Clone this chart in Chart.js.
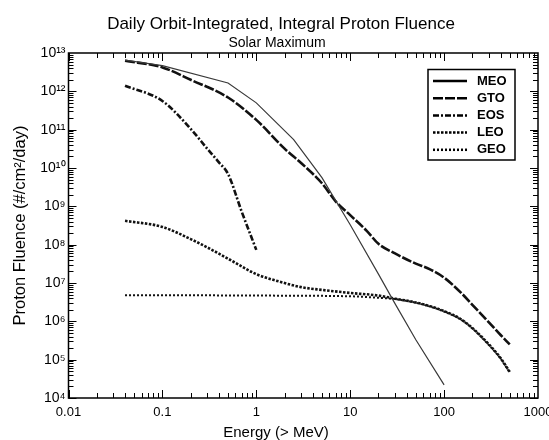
<!DOCTYPE html>
<html>
<head>
<meta charset="utf-8">
<title>Integral Proton Fluence</title>
<script src="https://cdn.jsdelivr.net/npm/chart.js@4.4.1/dist/chart.umd.min.js"></script>
<style>
  html, body { margin: 0; padding: 0; background: #fff; }
</style>
</head>
<body>
<canvas id="grafico" width="549" height="440"></canvas>
<script>
// energies in MeV, fluence in #/cm2/day, one pair of arrays per orbit
const meoEnergy = [0.04, 0.1, 0.5, 1, 2.5, 5, 10, 20, 30, 50, 100];
const meoFluence = [6.5e12, 4.7e12, 1.65e12, 5.0e11, 5.5e10, 5.6e9, 3.3e8, 1.7e7, 2.9e6, 3.3e5, 2.2e4];

const gtoEnergy = [0.04, 0.1, 0.2, 0.5, 1, 2, 3, 5, 7, 10, 15, 20, 30, 50, 70, 100, 150, 200, 300, 400, 500];
const gtoFluence = [6.3e12, 4.2e12, 2.0e12, 6.9e11, 1.8e11, 3.2e10, 1.35e10, 4.0e9, 1.35e9, 5.9e8, 2.3e8, 1.05e8, 5.9e7, 3.2e7, 2.3e7, 1.38e7, 5.7e6, 2.7e6, 9.4e5, 4.4e5, 2.5e5];

const eosEnergy = [0.04, 0.1, 0.2, 0.3, 0.4, 0.5, 0.7, 1];
const eosFluence = [1.4e12, 5.6e11, 1.05e11, 3.2e10, 1.4e10, 7.0e9, 7.2e8, 7.3e7];

const leoEnergy = [0.04, 0.1, 0.2, 0.3, 0.5, 0.7, 1, 2, 3, 5, 10, 20, 30, 50, 70, 100, 150, 200, 300, 400, 500];
const leoFluence = [4.2e8, 2.9e8, 1.4e8, 8.5e7, 4.3e7, 2.7e7, 1.7e7, 1.0e7, 7.8e6, 6.6e6, 5.5e6, 4.7e6, 3.9e6, 3.1e6, 2.5e6, 1.85e6, 1.15e6, 6.7e5, 2.5e5, 1.1e5, 4.8e4];

const geoEnergy = [0.04, 0.1, 1, 10, 20, 30, 50, 70, 100, 150, 200, 300, 400, 500];
const geoFluence = [4.8e6, 4.8e6, 4.7e6, 4.5e6, 4.1e6, 3.8e6, 3.05e6, 2.45e6, 1.8e6, 1.12e6, 6.5e5, 2.4e5, 1.05e5, 4.6e4];

const orbitNames = ['MEO', 'GTO', 'EOS', 'LEO', 'GEO'];

const xTickValues = [0.01, 0.1, 1, 10, 100, 1000];
const xTickLabels = ['0.01', '0.1', '1', '10', '100', '1000'];
const yTickPowers = [4, 5, 6, 7, 8, 9, 10, 11, 12, 13];

const chartTitle = 'Daily Orbit-Integrated, Integral Proton Fluence';
const chartSubtitle = 'Solar Maximum';
const xTitle = 'Energy (> MeV)';
const yTitle = 'Proton Fluence (#/cm\u00b2/day)';

const FONT = "'Liberation Sans', Arial, Helvetica, sans-serif";
const SUP = '\u2070\u00b9\u00b2\u00b3\u2074\u2075\u2076\u2077\u2078\u2079';

function superscript(n) {
    return String(n).split('').map(d => SUP[Number(d)]).join('');
}

function toPoints(energy, fluence) {
    return energy.map((e, i) => ({ x: e, y: fluence[i] }));
}

// box with inward ticks on all four sides
const frameTicks = {
    id: 'frameTicks',
    afterDatasetsDraw(chart) {
        const { ctx, chartArea: a } = chart;
        const x = chart.scales.x;
        const y = chart.scales.y;
        ctx.save();
        ctx.strokeStyle = '#000';
        ctx.lineWidth = 1;
        ctx.beginPath();
        for (let p = -2; p < 3; p++) {
            for (let m = 1; m < 10; m++) {
                const px = Math.round(x.getPixelForValue(m * Math.pow(10, p))) + 0.5;
                const len = m === 1 ? 8 : 5;
                ctx.moveTo(px, a.bottom);
                ctx.lineTo(px, a.bottom - len);
                ctx.moveTo(px, a.top);
                ctx.lineTo(px, a.top + len);
            }
        }
        for (let p = 4; p < 13; p++) {
            for (let m = 1; m < 10; m++) {
                const py = Math.round(y.getPixelForValue(m * Math.pow(10, p))) + 0.5;
                const len = m === 1 ? 8 : 5;
                ctx.moveTo(a.left, py);
                ctx.lineTo(a.left + len, py);
                ctx.moveTo(a.right, py);
                ctx.lineTo(a.right - len, py);
            }
        }
        ctx.stroke();
        ctx.lineWidth = 1.5;
        ctx.strokeRect(a.left, a.top, a.right - a.left, a.bottom - a.top);
        ctx.restore();
    }
};

// titles and the boxed legend
const texts = {
    id: 'texts',
    afterDraw(chart) {
        const { ctx, chartArea: a } = chart;
        ctx.save();
        ctx.fillStyle = '#000';
        ctx.strokeStyle = '#000';
        ctx.textAlign = 'center';
        ctx.textBaseline = 'alphabetic';
        ctx.font = `17px ${FONT}`;
        ctx.fillText(chartTitle, 281, 29);
        ctx.font = `14px ${FONT}`;
        ctx.fillText(chartSubtitle, 277, 47);
        ctx.font = `15px ${FONT}`;
        ctx.fillText(xTitle, 276, 437);

        ctx.save();
        ctx.translate(20, (a.top + a.bottom) / 2);
        ctx.rotate(-Math.PI / 2);
        ctx.textBaseline = 'middle';
        ctx.font = `16.5px ${FONT}`;
        ctx.fillText(yTitle, 0, 0);
        ctx.restore();

        ctx.lineWidth = 1.5;
        ctx.strokeRect(428, 69.5, 87, 90.5);
        ctx.font = `bold 13px ${FONT}`;
        ctx.textAlign = 'left';
        ctx.textBaseline = 'middle';
        chart.data.datasets.forEach((ds, i) => {
            const yy = 81 + i * 17.2;
            ctx.setLineDash(ds.borderDash);
            ctx.lineWidth = 2.5;
            ctx.beginPath();
            ctx.moveTo(433, yy);
            ctx.lineTo(467, yy);
            ctx.stroke();
            ctx.setLineDash([]);
            ctx.fillText(ds.label, 477, yy);
        });
        ctx.restore();
    }
};

const series = [
    { data: toPoints(meoEnergy, meoFluence), color: '#3a3a3a', width: 1.2, dash: [], smooth: false },
    { data: toPoints(gtoEnergy, gtoFluence), color: '#111', width: 2.6, dash: [10, 2], smooth: true },
    { data: toPoints(eosEnergy, eosFluence), color: '#111', width: 2.6, dash: [6, 2, 2, 2], smooth: true },
    { data: toPoints(leoEnergy, leoFluence), color: '#111', width: 2.6, dash: [2.5, 1.5], smooth: true },
    { data: toPoints(geoEnergy, geoFluence), color: '#111', width: 2, dash: [2, 2], smooth: true }
];

const ctx = document.getElementById('grafico').getContext('2d');

new Chart(ctx, {
    type: 'line',
    data: {
        datasets: series.map((s, i) => ({
            label: orbitNames[i],
            data: s.data,
            borderColor: s.color,
            borderWidth: s.width,
            borderDash: s.dash,
            cubicInterpolationMode: s.smooth ? 'monotone' : 'default',
            tension: 0,
            fill: false
        }))
    },
    options: {
        responsive: false,
        animation: false,
        layout: { padding: { top: 53, right: 11, left: 0, bottom: 0 } },
        elements: { point: { radius: 0 } },
        plugins: {
            legend: { display: false },
            tooltip: { enabled: false }
        },
        scales: {
            x: {
                type: 'logarithmic',
                min: 0.01,
                max: 1000,
                grid: { display: false, drawTicks: false },
                border: { display: false },
                afterBuildTicks: s => { s.ticks = xTickValues.map(v => ({ value: v })); },
                afterFit: s => { s.height = 42; s.paddingLeft = 0; s.paddingRight = 0; },
                ticks: {
                    autoSkip: false,
                    maxRotation: 0,
                    padding: 7,
                    color: '#000',
                    font: { family: FONT, size: 13 },
                    callback: (v, i) => xTickLabels[i]
                }
            },
            y: {
                type: 'logarithmic',
                min: 1e4,
                max: 1e13,
                grid: { display: false, drawTicks: false },
                border: { display: false },
                afterBuildTicks: s => { s.ticks = yTickPowers.map(p => ({ value: Math.pow(10, p) })); },
                afterFit: s => { s.width = 68.5; s.paddingTop = 0; s.paddingBottom = 0; },
                ticks: {
                    autoSkip: false,
                    padding: 3,
                    color: '#000',
                    font: { family: FONT, size: 14 },
                    callback: (v, i) => '10' + superscript(yTickPowers[i])
                }
            }
        }
    },
    plugins: [frameTicks, texts]
});
</script>
</body>
</html>
